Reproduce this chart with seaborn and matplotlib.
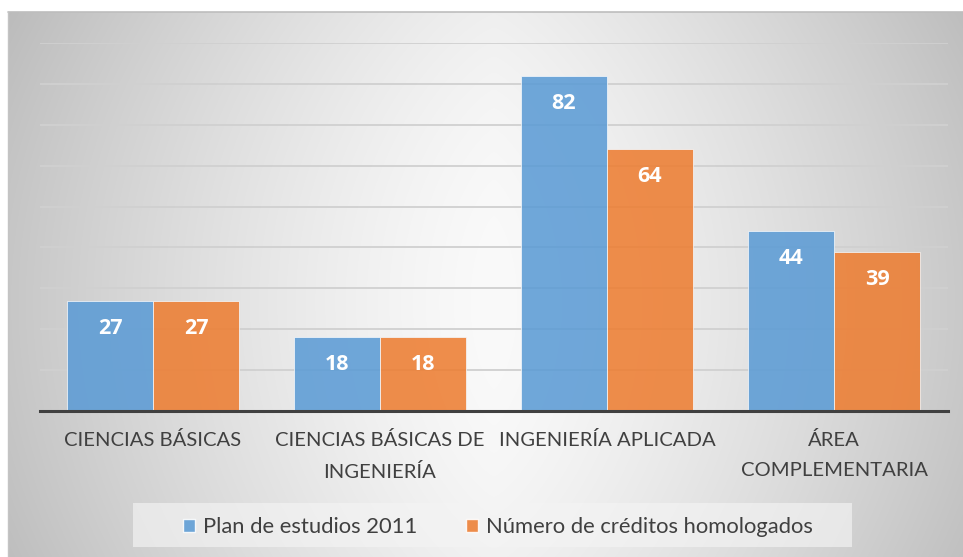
import numpy as np
import pandas as pd
import matplotlib
matplotlib.use('Agg')
import matplotlib.pyplot as plt
from matplotlib.patches import Rectangle
import seaborn as sns

sns.set_style('white')
plt.rcParams['font.family'] = ['Lato', 'DejaVu Sans']

# data
categorias = ['CIENCIAS BÁSICAS', 'CIENCIAS BÁSICAS DE\nINGENIERÍA',
              'INGENIERÍA APLICADA', 'ÁREA\nCOMPLEMENTARIA']
plan_2011 = [27, 18, 82, 44]
homologados = [27, 18, 64, 39]
series = ['Plan de estudios 2011', 'Número de créditos homologados']
colores = ['#5B9BD5', '#ED7D31']

df = pd.DataFrame({
    'cat': categorias * 2,
    'val': plan_2011 + homologados,
    'serie': [series[0]] * 4 + [series[1]] * 4,
})

W, H = 963, 557
fig = plt.figure(figsize=(W / 100, H / 100), dpi=100)

# gradient background of the chart area
bg = fig.add_axes([8 / W, 0, (W - 8) / W, (H - 12) / H])
xx, yy = np.meshgrid(np.arange(W - 8), np.arange(H - 12))
dx = np.abs(xx - 485) / 475
dy = np.abs(yy - 290) / 275
val = 250 - 50 * dx ** 1.3 - 10 * dy ** 2
val = np.clip(val, 0, 255) / 255
bg.imshow(np.dstack([val, val, val]), aspect='auto', interpolation='bilinear')
bg.set_axis_off()
fig.add_artist(plt.Line2D([8 / W, 1], [(H - 12) / H] * 2, color='#BDBDBD', lw=1.2))
fig.add_artist(plt.Line2D([8 / W] * 2, [0, (H - 12) / H], color='#C4C4C4', lw=1.0))

ax = fig.add_axes([39.5 / W, 1 - 411 / H, 908 / W, (411 - 43) / H])
ax.patch.set_alpha(0)
sns.barplot(data=df, x='cat', y='val', hue='serie', palette=colores,
            saturation=1, width=0.758, alpha=0.87, edgecolor='#F4F8FC',
            linewidth=0.6, ax=ax, legend=False, zorder=2)

ax.set_ylim(0, 90)
ax.set_xlim(-0.5, 3.5)
ax.set_yticks(np.arange(10, 91, 10))
ax.yaxis.grid(True, color='#D0D0D0', lw=1.3, zorder=1)
ax.set_axisbelow(True)
ax.tick_params(axis='y', left=False, labelleft=False)
ax.tick_params(axis='x', length=0, pad=14.5)
for s in ['top', 'right', 'left']:
    ax.spines[s].set_visible(False)
ax.spines['bottom'].set_color('#404040')
ax.spines['bottom'].set_linewidth(2.2)
ax.set_xlabel('')
ax.set_ylabel('')
ax.set_xticks(range(len(categorias)))
ax.set_xticklabels(categorias, fontsize=14.6, color='#404040')

for cont in ax.containers:
    for bar in cont:
        h = bar.get_height()
        ax.annotate('{:d}'.format(int(h)), (bar.get_x() + bar.get_width() / 2, h),
                    xytext=(0, -19.8), textcoords='offset points',
                    ha='center', va='center', color='white', fontsize=15.5,
                    fontweight='bold', family=['Open Sans', 'DejaVu Sans'])

# legend box
fig.add_artist(Rectangle((133 / W, 1 - 547 / H), 719 / W, 44 / H,
                         transform=fig.transFigure, facecolor='#F4F4F4',
                         alpha=0.65, edgecolor='none'))
handles = [Rectangle((0, 0), 1, 1, facecolor=c, alpha=0.87) for c in colores]
leg = fig.legend(handles, series, ncol=2, frameon=False, loc='center',
                 bbox_to_anchor=(498 / W, 1 - 527 / H),
                 prop={'size': 15.8},
                 handlelength=0.55, handleheight=0.55, handletextpad=0.36,
                 columnspacing=2.2, labelcolor='#404040')

# line spacing of the two-line labels, set once the ticks exist
fig.canvas.draw()
for tick in ax.xaxis.get_major_ticks():
    tick.label1.set_linespacing(1.9)

fig.savefig('out.png', dpi=100)
